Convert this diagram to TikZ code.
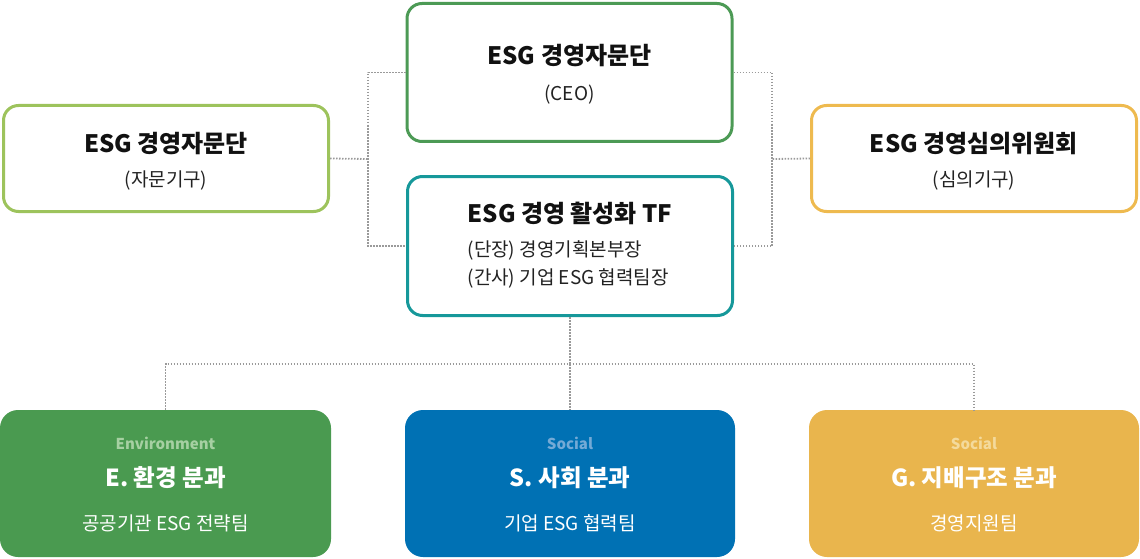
\documentclass[tikz,border=0pt]{standalone}
\usepackage{fontspec}
\setmainfont{Noto Sans CJK KR}
\definecolor{lineg}{HTML}{9A9A9A}
\definecolor{topg}{HTML}{4C9A55}
\definecolor{leftg}{HTML}{9DC35C}
\definecolor{righty}{HTML}{EEBA4F}
\definecolor{tfteal}{HTML}{16989A}
\definecolor{efill}{HTML}{4A9A50}
\definecolor{etag}{HTML}{A6D0A2}
\definecolor{sfill}{HTML}{0071B4}
\definecolor{stag}{HTML}{74AAD6}
\definecolor{gfill}{HTML}{E9B54D}
\definecolor{gtag}{HTML}{F4DA9C}
\definecolor{txt}{HTML}{111111}
\definecolor{stxt}{HTML}{222222}
\begin{document}
\begin{tikzpicture}[x=1pt,y=-1pt,
  obox/.style={draw, line width=3pt, rounded corners=15pt, fill=white, minimum width=325pt, inner sep=0pt},
  fbox/.style={rounded corners=18pt, minimum width=330pt, minimum height=147pt, inner sep=0pt},
  link/.style={draw=lineg, line width=1.8pt, dash pattern=on 1.5pt off 1.5pt},
  ttl/.style={font=\fontsize{24}{28}\selectfont\bfseries, text=txt, inner sep=0pt},
  sub/.style={font=\fontsize{19}{22}\selectfont, text=stxt, inner sep=0pt},
  tag/.style={font=\fontsize{15}{18}\selectfont\bfseries, inner sep=0pt},
  btl/.style={font=\fontsize{23.5}{27}\selectfont\bfseries, text=white, inner sep=0pt},
  bsub/.style={font=\fontsize{19}{22}\selectfont, text=white, inner sep=0pt}]
\useasboundingbox (0,0) rectangle (1140,559);
% outlined boxes
\node[obox, draw=topg, minimum height=138pt] (top) at (569.5,72.5) {};
\node[obox, draw=leftg, minimum height=106pt] (left) at (166,158.5) {};
\node[obox, draw=righty, minimum height=106pt] (right) at (974,158.5) {};
\node[obox, draw=tfteal, minimum height=139pt] (tf) at (570,246) {};
% filled boxes
\node[fbox, fill=efill, minimum width=331pt] (e) at (165.5,483.5) {};
\node[fbox, fill=sfill] (s) at (570,483.5) {};
\node[fbox, fill=gfill] (g) at (974,483.5) {};
% connectors
\coordinate (lj) at (368,159);
\coordinate (rj) at (772,159);
\coordinate (bj) at (570,364);
\draw[link] (top.west) -| (lj) |- (tf.west);
\draw[link] (left.east) -- (lj);
\draw[link] (top.east) -| (rj) |- (tf.east);
\draw[link] (right.west) -- (rj);
\draw[link] (tf.south) -- (bj);
\draw[link] (e.north) |- (bj) -| (g.north);
\draw[link] (bj) -- (s.north);
% texts
\node[ttl] (topt) at (569.5,56) {ESG 경영자문단};
\node[sub] (tops) at (569.5,95) {(CEO)};
\node[ttl] (leftt) at (166,144) {ESG 경영자문단};
\node[sub] (lefts) at (166,181) {(자문기구)};
\node[ttl] (rightt) at (974,144) {ESG 경영심의위원회};
\node[sub] (rights) at (974,181) {(심의기구)};
\node[ttl] (tft) at (570,213) {ESG 경영 활성화 TF};
\node[sub, anchor=west] (tfa) at (tft.west |- 0,250) {(단장) 경영기획본부장};
\node[sub, anchor=west] (tfb) at (tft.west |- 0,278) {(간사) 기업 ESG 협력팀장};
\node[tag, text=etag] (et) at (165.5,443) {Environment};
\node[btl] (eb) at (165.5,478) {E. 환경 분과};
\node[bsub] (es) at (165.5,523) {공공기관 ESG 전략팀};
\node[tag, text=stag] (st) at (570,443) {Social};
\node[btl] (sb) at (570,478) {S. 사회 분과};
\node[bsub] (ss) at (570,523) {기업 ESG 협력팀};
\node[tag, text=gtag] (gt) at (974,443) {Social};
\node[btl] (gb) at (974,478) {G. 지배구조 분과};
\node[bsub] (gs) at (974,523) {경영지원팀};
\end{tikzpicture}
\end{document}
